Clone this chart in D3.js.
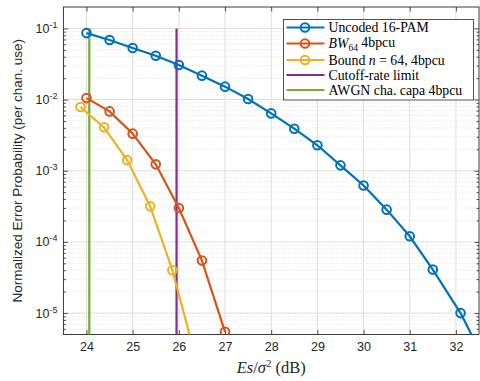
<!DOCTYPE html>
<html>
<head>
<meta charset="utf-8">
<script src="https://cdn.jsdelivr.net/npm/d3@7"></script>
<style>
  body { margin: 0; background: #fff; }
  svg { display: block; }
</style>
</head>
<body>
<svg width="480" height="381"></svg>
<script>
// data
const esUncoded = [24, 24.5, 25, 25.5, 26, 26.5, 27, 27.5, 28, 28.5, 29, 29.5, 30, 30.5, 31, 31.5, 32.1, 32.6];
const peUncoded = [0.086, 0.0687, 0.0531, 0.0414, 0.0306, 0.0217, 0.0152, 0.0102, 0.0064, 0.0039, 0.00228, 0.00119,
                   6.2e-4, 2.84e-4, 1.2e-4, 4.08e-5, 1.0e-5, 2.3e-6];
const esBW = [24, 24.5, 25, 25.5, 26, 26.5, 27];
const peBW = [0.0105, 0.00682, 0.00332, 0.00123, 3.0e-4, 5.46e-5, 5.45e-6];
const esBound = [23.87, 24.38, 24.88, 25.38, 25.86, 26.37];
const peBound = [0.00787, 0.00407, 0.00141, 3.16e-4, 4.0e-5, 2.3e-6];
const cutoffX = 25.95;
const capaX = 24.06;
const vlineTop = 0.1;
const xTicks = [24, 25, 26, 27, 28, 29, 30, 31, 32];
const yTickExp = [-5, -4, -3, -2, -1];

const svg = d3.select('svg');
const margin = { top: 7, right: 1, bottom: 46.5, left: 63.4 };
const width = 480 - margin.left - margin.right;
const height = 381 - margin.top - margin.bottom;
const axisColor = '#262626';

const x = d3.scaleLinear().domain([23.5, 32.5]).range([0, width]);
const y = d3.scaleLog().domain([5e-6, 0.2]).range([height, 0]);

const g = svg.append('g').attr('transform', `translate(${margin.left},${margin.top})`);

svg.append('defs').append('clipPath').attr('id', 'clip')
  .append('rect').attr('width', width).attr('height', height);

// minor y values
const minorY = [];
for (let e = -6; e <= -1; e++) {
  for (let k = 2; k <= 9; k++) {
    const v = k * Math.pow(10, e);
    if (v > y.domain()[0] && v < y.domain()[1]) minorY.push(v);
  }
}
const majorY = yTickExp.map(e => Math.pow(10, e));

// grid
const grid = g.append('g');
grid.selectAll('.minor').data(minorY).enter().append('line')
  .attr('x1', 0).attr('x2', width)
  .attr('y1', d => y(d)).attr('y2', d => y(d))
  .attr('stroke', '#d4d4d4').attr('stroke-width', 0.8).attr('stroke-dasharray', '1,2');
grid.selectAll('.majy').data(majorY).enter().append('line')
  .attr('x1', 0).attr('x2', width)
  .attr('y1', d => y(d)).attr('y2', d => y(d))
  .attr('stroke', '#dedede').attr('stroke-width', 1);
grid.selectAll('.majx').data(xTicks).enter().append('line')
  .attr('y1', 0).attr('y2', height)
  .attr('x1', d => x(d)).attr('x2', d => x(d))
  .attr('stroke', '#dedede').attr('stroke-width', 1);

// axes (ticks inside, on all four sides)
const tickLen = 4.5;
const xAxisB = g.append('g').attr('transform', `translate(0,${height})`)
  .call(d3.axisBottom(x).tickValues(xTicks).tickSizeInner(-tickLen).tickSizeOuter(0).tickPadding(8));
const xAxisT = g.append('g')
  .call(d3.axisTop(x).tickValues(xTicks).tickSizeInner(-tickLen).tickSizeOuter(0).tickFormat(''));
const yAxisL = g.append('g')
  .call(d3.axisLeft(y).tickValues(majorY).tickSizeInner(-tickLen).tickSizeOuter(0).tickFormat(''));
const yAxisR = g.append('g').attr('transform', `translate(${width},0)`)
  .call(d3.axisRight(y).tickValues(majorY).tickSizeInner(-tickLen).tickSizeOuter(0).tickFormat(''));
const yMinL = g.append('g')
  .call(d3.axisLeft(y).tickValues(minorY).tickSizeInner(-2.5).tickSizeOuter(0).tickFormat(''));
const yMinR = g.append('g').attr('transform', `translate(${width},0)`)
  .call(d3.axisRight(y).tickValues(minorY).tickSizeInner(-2.5).tickSizeOuter(0).tickFormat(''));

[xAxisB, xAxisT, yAxisL, yAxisR, yMinL, yMinR].forEach(a => {
  a.select('.domain').remove();
  a.selectAll('line').attr('stroke', axisColor).attr('stroke-width', 0.8);
});
xAxisB.selectAll('text')
  .attr('font-family', 'Liberation Sans, Arial, sans-serif')
  .attr('font-size', 12.5).attr('fill', axisColor);

// y tick labels 10^e
yAxisL.selectAll('.tick').each(function(d) {
  const t = d3.select(this).append('text')
    .attr('x', -6).attr('dy', '0.4em').attr('text-anchor', 'end')
    .attr('font-family', 'Liberation Sans, Arial, sans-serif')
    .attr('fill', axisColor);
  t.append('tspan').attr('font-size', 12.5).text('10');
  t.append('tspan').attr('font-size', 9).attr('dy', '-0.55em')
    .text(Math.round(Math.log10(d)));
});

// plot frame
g.append('rect').attr('width', width).attr('height', height)
  .attr('fill', 'none').attr('stroke', axisColor).attr('stroke-width', 0.9);

// series
const series = [
  { name: 'uncoded', xs: esUncoded, ys: peUncoded, color: '#0072BD' },
  { name: 'bw', xs: esBW, ys: peBW, color: '#D95319' },
  { name: 'bound', xs: esBound, ys: peBound, color: '#EDB120' }
];
const plot = g.append('g').attr('clip-path', 'url(#clip)');
const line = d3.line().x(d => x(d[0])).y(d => y(d[1]));

// vertical limits
plot.append('path')
  .attr('d', line([[capaX, vlineTop], [capaX, 1e-6]]))
  .attr('stroke', '#77AC30').attr('stroke-width', 2.2).attr('fill', 'none');
plot.append('path')
  .attr('d', line([[cutoffX, vlineTop], [cutoffX, 1e-6]]))
  .attr('stroke', '#7E2F8E').attr('stroke-width', 2.2).attr('fill', 'none');

series.forEach(s => {
  const pts = s.xs.map((v, i) => [v, s.ys[i]]);
  plot.append('path').attr('d', line(pts))
    .attr('stroke', s.color).attr('stroke-width', 2.2).attr('fill', 'none');
  plot.selectAll(null).data(pts).enter().append('circle')
    .attr('cx', d => x(d[0])).attr('cy', d => y(d[1])).attr('r', 4.3)
    .attr('fill', 'none').attr('stroke', s.color).attr('stroke-width', 2);
});

// legend
const serif = 'Liberation Serif, Times New Roman, serif';
const leg = svg.append('g').attr('transform', 'translate(283.5,19.5)');
leg.append('rect').attr('width', 190).attr('height', 80.5)
  .attr('fill', '#fff').attr('stroke', axisColor).attr('stroke-width', 0.8);
const legItems = [
  { color: '#0072BD', marker: true },
  { color: '#D95319', marker: true },
  { color: '#EDB120', marker: true },
  { color: '#7E2F8E', marker: false },
  { color: '#77AC30', marker: false }
];
const rowY = [8, 24, 40.5, 55.5, 70.5];
legItems.forEach((it, i) => {
  const r = leg.append('g').attr('transform', `translate(0,${rowY[i]})`);
  r.append('line').attr('x1', 3).attr('x2', 41).attr('stroke', it.color).attr('stroke-width', 2.2);
  if (it.marker) r.append('circle').attr('cx', 21.5).attr('r', 4.3)
    .attr('fill', 'none').attr('stroke', it.color).attr('stroke-width', 2);
});
function legText(i) {
  return leg.append('text').attr('x', 45).attr('y', rowY[i]).attr('dy', '0.35em')
    .attr('font-family', serif).attr('font-size', 13.8).attr('fill', '#000');
}
legText(0).text('Uncoded 16-PAM');
const t1 = legText(1);
t1.append('tspan').attr('font-style', 'italic').text('BW');
t1.append('tspan').attr('font-size', 9.5).attr('dy', '0.3em').text('64');
t1.append('tspan').attr('dy', '-0.3em').text(' 4bpcu');
const t2 = legText(2);
t2.append('tspan').text('Bound ');
t2.append('tspan').attr('font-style', 'italic').text('n');
t2.append('tspan').text(' = 64, 4bpcu');
legText(3).text('Cutoff-rate limit');
legText(4).text('AWGN cha. capa 4bpcu');

// axis labels
svg.append('text')
  .attr('transform', `translate(22,${margin.top + height / 2}) rotate(-90)`)
  .attr('text-anchor', 'middle')
  .attr('font-family', 'Liberation Sans, Arial, sans-serif')
  .attr('font-size', 13.5).attr('fill', axisColor)
  .text('Normalized Error Probability (per chan. use)');

const xl = svg.append('text')
  .attr('x', margin.left + width / 2).attr('y', 373)
  .attr('text-anchor', 'middle')
  .attr('font-family', serif).attr('font-size', 16.5).attr('fill', axisColor);
xl.append('tspan').attr('font-style', 'italic').text('Es');
xl.append('tspan').text('/');
xl.append('tspan').attr('font-style', 'italic').text('σ');
xl.append('tspan').attr('font-size', 11).attr('dy', '-0.55em').text('2');
xl.append('tspan').attr('dy', '0.37em').text(' (dB)');
</script>
</body>
</html>
